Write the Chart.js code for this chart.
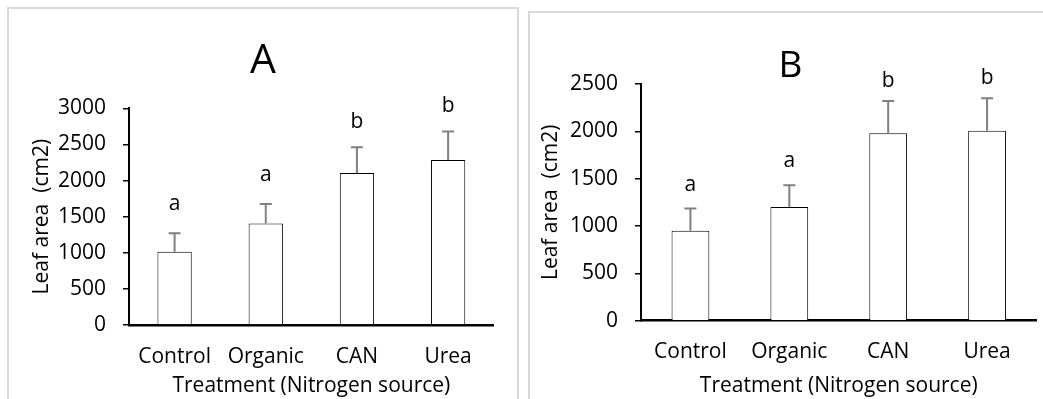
<!DOCTYPE html>
<html><head><meta charset="utf-8">
<script src="https://cdn.jsdelivr.net/npm/chart.js@4.4.1/dist/chart.umd.min.js"></script>
<style>
html,body{margin:0;padding:0;background:#fff;overflow:hidden;width:1043px;height:399px;}
.panel{position:absolute;border:2px solid #d9d9d9;box-sizing:border-box;}
#pa{left:7px;top:7px;width:512px;height:430px;}
#pb{left:528px;top:11px;width:540px;height:430px;}
canvas{position:absolute;}
#ca{left:9px;top:9px;width:508px;height:390px;}
#cb{left:530px;top:13px;width:521px;height:386px;}
</style></head><body>
<div class="panel" id="pa"></div><div class="panel" id="pb"></div>
<canvas id="ca" width="508" height="390"></canvas>
<canvas id="cb" width="521" height="386"></canvas>
<script>
// ---- data ----
const categories = ['Control', 'Organic', 'CAN', 'Urea'];
const leafAreaA = [1015, 1405, 2105, 2285];
const errorA = [255, 270, 355, 395];
const lettersA = ['a', 'a', 'b', 'b'];
const leafAreaB = [950, 1200, 1980, 2005];
const errorB = [235, 230, 340, 345];
const lettersB = ['a', 'a', 'b', 'b'];
const yMaxA = 3000, yMaxB = 2500, yStep = 500;
const xAxisTitle = 'Treatment (Nitrogen source)';
const yAxisTitle = 'Leaf area  (cm2)';

Chart.defaults.font.family = '"Open Sans", sans-serif';
Chart.defaults.color = '#000';

const annotatePlugin = {
  id: 'annotate',
  afterDatasetsDraw(chart, args, opts) {
    const ctx = chart.ctx, ys = chart.scales.y;
    const ds = chart.data.datasets[0];
    const meta = chart.getDatasetMeta(0);
    ctx.save();
    meta.data.forEach((bar, i) => {
      const v = ds.data[i], e = ds.errors[i];
      const yb = ys.getPixelForValue(v), yt = ys.getPixelForValue(v + e);
      ctx.strokeStyle = '#808080'; ctx.lineWidth = 2;
      ctx.beginPath();
      ctx.moveTo(bar.x, yb); ctx.lineTo(bar.x, yt);
      ctx.moveTo(bar.x - 6, yt); ctx.lineTo(bar.x + 6, yt);
      ctx.stroke();
      ctx.fillStyle = '#000';
      ctx.font = '21px "Open Sans", sans-serif';
      ctx.textAlign = 'center'; ctx.textBaseline = 'alphabetic';
      const t = ds.letters[i];
      const m = ctx.measureText(t);
      ctx.fillText(t, bar.x, yt - opts.letterGap + m.actualBoundingBoxAscent);
    });
    ctx.font = opts.titleSize + 'px "Open Sans", sans-serif';
    ctx.textAlign = 'center'; ctx.textBaseline = 'alphabetic';
    ctx.fillStyle = '#000';
    ctx.fillText(opts.title, chart.width / 2, opts.titleBaseline);
    ctx.restore();
  }
};

function makeChart(id, values, errors, letters, cfg) {
  return new Chart(document.getElementById(id), {
    type: 'bar',
    data: {
      labels: categories,
      datasets: [{
        data: values, errors: errors, letters: letters,
        backgroundColor: '#ffffff', borderColor: '#000000', borderWidth: 1,
        barPercentage: cfg.barPct, categoryPercentage: 1
      }]
    },
    options: {
      responsive: false, animation: false, events: [],
      layout: { padding: { top: cfg.padTop, right: cfg.padRight, bottom: 0, left: 0 } },
      plugins: {
        legend: { display: false }, tooltip: { enabled: false }, title: { display: false },
        annotate: { title: cfg.title, titleSize: cfg.titleSize, titleBaseline: cfg.titleBaseline, letterGap: cfg.letterGap }
      },
      scales: {
        x: {
          grid: { display: false, drawTicks: false },
          border: { display: true, color: '#000', width: 2.5 },
          ticks: { padding: 19, color: '#000', font: { size: 21 }, maxRotation: 0, autoSkip: false },
          title: { display: true, text: xAxisTitle, color: '#000', font: { size: 21 }, padding: { top: 0, bottom: 0 } },
          afterFit(s) { s.height = cfg.xHeight; }
        },
        y: {
          min: 0, max: cfg.yMax,
          ticks: { stepSize: yStep, padding: 17, color: '#000', font: { size: 21 }, callback: (v) => String(v) },
          grid: { drawOnChartArea: false, drawTicks: true, tickLength: 6, color: '#000', lineWidth: 1.5 },
          border: { display: true, color: '#000', width: 2 },
          title: { display: true, text: yAxisTitle, color: '#000', font: { size: 21 }, padding: { top: cfg.yTitlePad, bottom: 0 } },
          afterFit(s) { s.width = cfg.yWidth; }
        }
      }
    },
    plugins: [annotatePlugin]
  });
}

makeChart('ca', leafAreaA, errorA, lettersA, {
  yMax: yMaxA, barPct: 0.376, padTop: 99.3, padRight: 23.3, xHeight: 74, yWidth: 120,
  yTitlePad: 20.4, title: 'A', titleSize: 41, titleBaseline: 64.3, letterGap: 35
});
makeChart('cb', leafAreaB, errorB, lettersB, {
  yMax: yMaxB, barPct: 0.382, padTop: 71, padRight: 14.5, xHeight: 78.3, yWidth: 111,
  yTitlePad: 8.2, title: 'B', titleSize: 37, titleBaseline: 63.7, letterGap: 30
});
</script>
</body></html>
